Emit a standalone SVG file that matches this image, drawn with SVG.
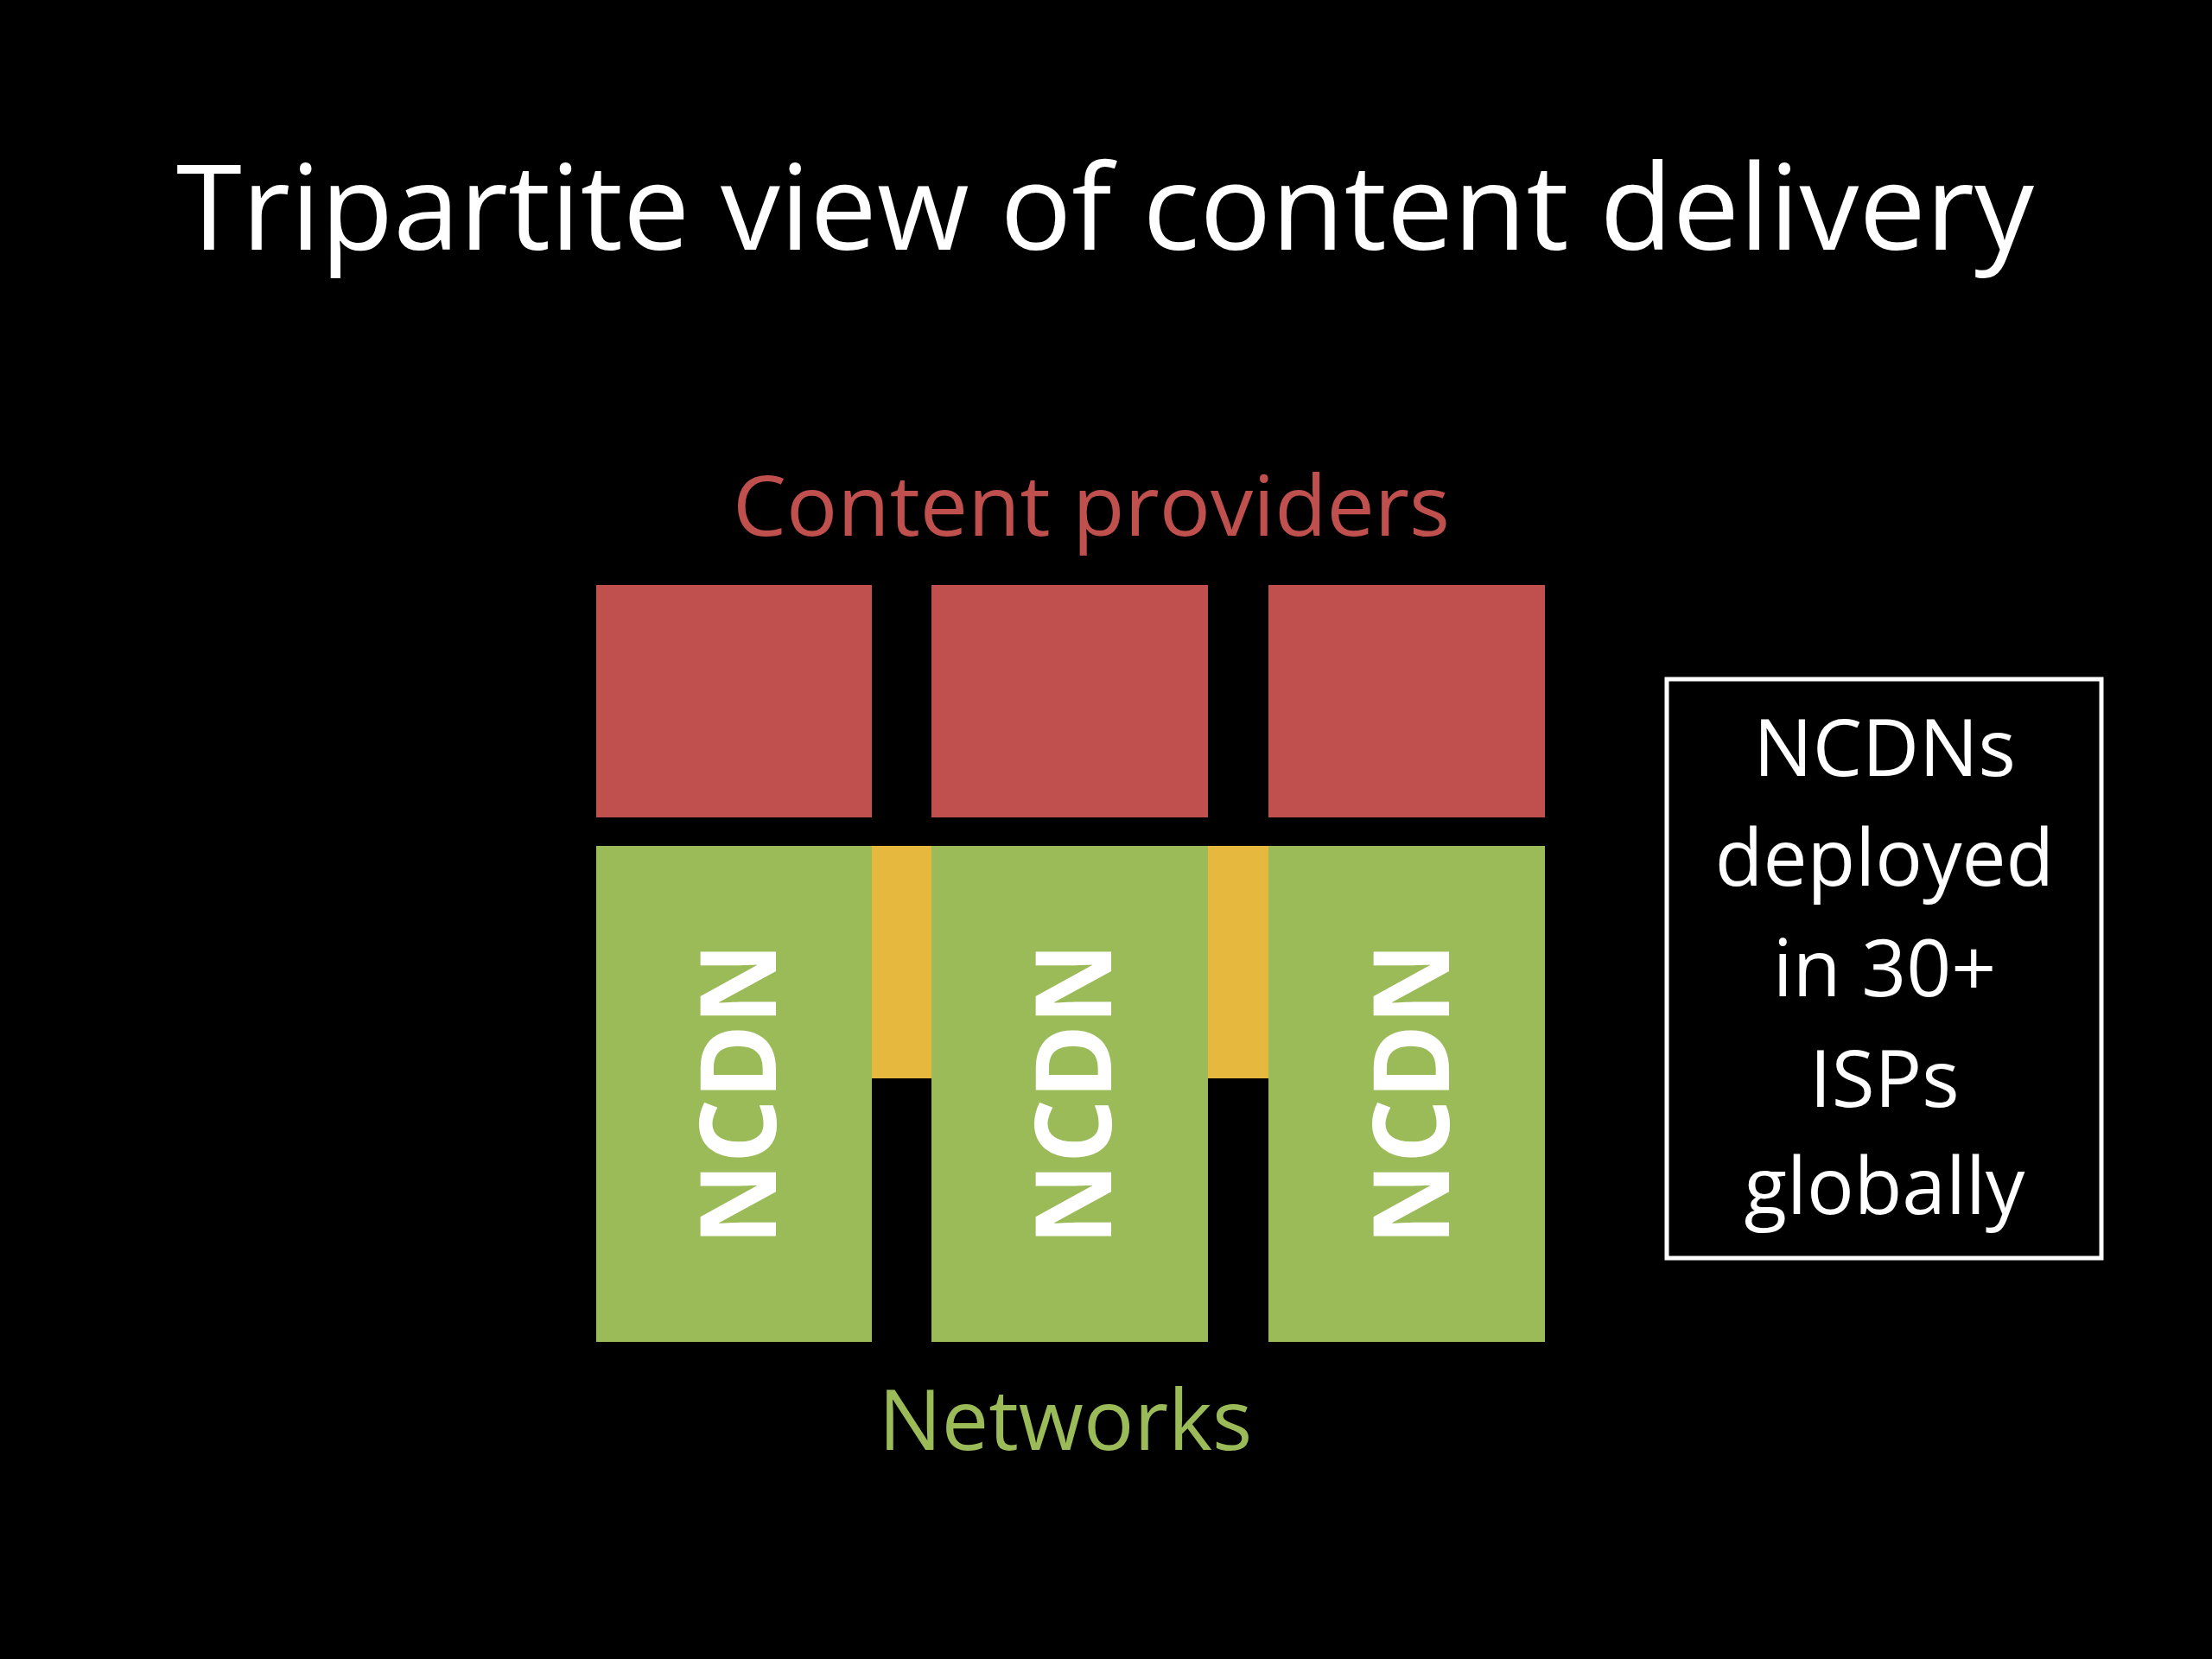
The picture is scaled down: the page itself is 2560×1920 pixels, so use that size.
<svg xmlns="http://www.w3.org/2000/svg" width="2560" height="1920" viewBox="0 0 2560 1920">
<style>
text{font-family:"Open Sans","Liberation Sans",sans-serif}
.red{fill:#C0504D}
.green{fill:#9BBB59}
.yellow{fill:#E6B83E}
.ncdn{fill:#FFFFFF;font-weight:bold;font-size:122px;text-anchor:middle}
.note{fill:#FFFFFF;font-size:91px;text-anchor:middle}
</style>
<rect x="0" y="0" width="2560" height="1920" fill="#000000"/>
<text x="1279" y="289" fill="#FFFFFF" font-size="137" text-anchor="middle" textLength="2150" lengthAdjust="spacingAndGlyphs">Tripartite view of content delivery</text>
<text id="label-content" x="1263" y="620" class="red" font-size="97" text-anchor="middle" textLength="830" lengthAdjust="spacingAndGlyphs">Content providers</text>
<g id="connectors">
<rect class="yellow" x="1009" y="979" width="69" height="269"/>
<rect class="yellow" x="1398" y="979" width="70" height="269"/>
</g>
<g id="cp1"><rect class="red" x="690" y="677" width="319" height="269"/></g>
<g id="cp2"><rect class="red" x="1078" y="677" width="320" height="269"/></g>
<g id="cp3"><rect class="red" x="1468" y="677" width="320" height="269"/></g>
<g id="ncdn1"><rect class="green" x="690" y="979" width="319" height="574"/><text class="ncdn" transform="translate(898,1266) rotate(-90)" textLength="350" lengthAdjust="spacingAndGlyphs">NCDN</text></g>
<g id="ncdn2"><rect class="green" x="1078" y="979" width="320" height="574"/><text class="ncdn" transform="translate(1286,1266) rotate(-90)" textLength="350" lengthAdjust="spacingAndGlyphs">NCDN</text></g>
<g id="ncdn3"><rect class="green" x="1468" y="979" width="320" height="574"/><text class="ncdn" transform="translate(1677,1266) rotate(-90)" textLength="350" lengthAdjust="spacingAndGlyphs">NCDN</text></g>
<text id="label-networks" x="1233" y="1678" class="green" font-size="97" text-anchor="middle">Networks</text>
<g id="note">
<rect x="1929" y="786" width="503" height="670" fill="none" stroke="#FFFFFF" stroke-width="5"/>
<text class="note" x="2181" y="898">NCDNs</text>
<text class="note" x="2181" y="1025">deployed</text>
<text class="note" x="2181" y="1153">in 30+</text>
<text class="note" x="2181" y="1281">ISPs</text>
<text class="note" x="2181" y="1405">globally</text>
</g>
</svg>
